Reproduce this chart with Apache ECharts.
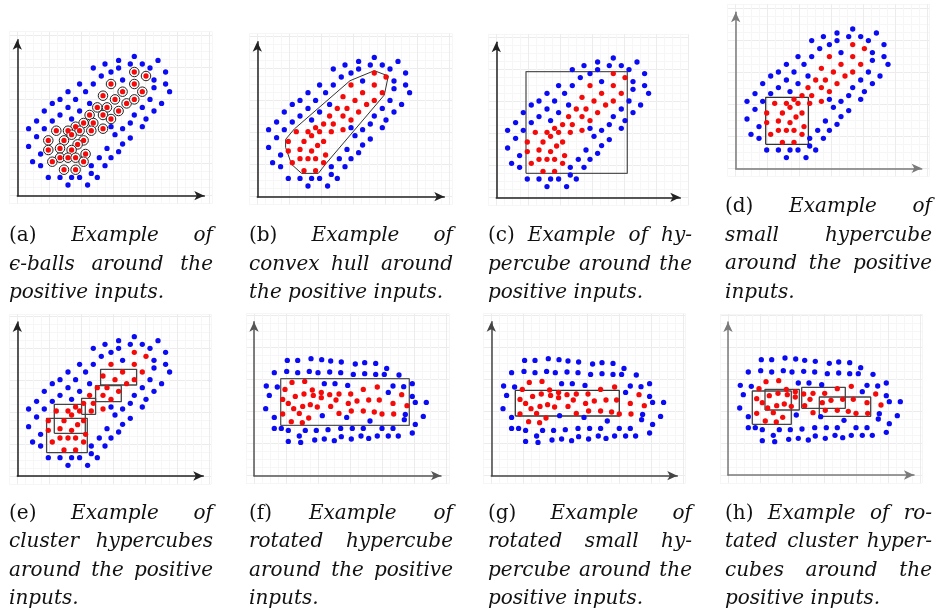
<!DOCTYPE html>
<html><head><meta charset="utf-8">
<script src="https://cdn.jsdelivr.net/npm/echarts@6/dist/echarts.min.js"></script>
<style>html,body{margin:0;padding:0;background:#fff}#c{width:938px;height:612px}</style>
</head><body><div id="c"></div>
<script>
// ---------- DATA (units = px from each panel's origin) ----------
const diagBlue = [
 [117,139.3],[101.3,135.3],[140.7,135.3],[87.7,131.7],[113,131.7],[125,131.7],[76,127.7],[101.3,127.7],
 [132.7,127.7],[93.7,123.7],[148.3,123.7],[84,119.7],[105.3,115.7],[136.7,115.7],[62.3,111.7],[76,111.7],
 [148.3,111.7],[136.7,108],[50.7,104],[68.3,104],[152.3,104],[42.7,96.3],[58.3,96.3],[132.7,96.3],
 [35,92.3],[72.3,92.3],[144.3,92.3],[50.7,88.3],[125,88.3],[27,84.7],[62.3,84.7],[136.7,84.7],
 [42.7,80.7],[117,80.7],[54.3,76.7],[128.7,76.7],[19.3,74.7],[35,74.7],[113,72.7],[93.7,69],
 [125,69],[11.3,67],[27,67],[105.3,67],[97.7,61],[19.3,59],[113,57.7],[105.3,51.7],[11.3,49.3],
 [89.7,47.3],[101.3,44],[23.3,41.7],[82,38],[93.7,38],[15.3,34],[23.3,30],[74,30],[87.7,30],
 [74,22.3],[31,18.3],[42.7,18.3],[54.3,18.3],[62.3,18.3],[80,18.3],[50.7,10.7],[70.3,10.7]
];
const diagRed = [
 [117,123.7],[128.7,119.7],[93.7,111.7],[117,111.7],[105.3,104],[125,104],[85.7,100],[97.7,96.3],
 [80,88.3],[89.7,88.3],[109.3,92.3],[117,96.3],[101.3,84.7],[72.3,80.7],[85.7,80.7],[93.7,76.7],
 [66.3,72.7],[76,72.7],[58.3,69],[85.7,67],[39,65],[50.7,65],[62.3,65],[74,65],[54.3,61],
 [31,55.3],[46.7,55.3],[66.3,55.3],[60.3,51.3],[42.7,47.3],[31,45.7],[54.3,45.7],[68.3,41.7],
 [42.7,38],[50.7,38],[58.3,38],[35,34],[66.3,34],[46.7,26],[58.3,26]
];
const hullB = [
 [117,126],[131,120.7],[127,101.7],[68,32.3],[61,23.3],[44.3,23.3],[34.3,32.3],[28.3,49.3],
 [28.3,57.3],[37,67.7],[92.7,116],[117,126]
];
const rotBlue = [
 [33.3,115.3],[43.7,115.3],[57,117],[67.7,116],[76.7,114.7],[87.3,113.7],[101.3,111.7],[110.7,113],
 [121.7,112.3],[132.7,107.3],[20.3,103],[32.7,104.3],[43.7,103],[55.3,104.3],[64,103],[75.7,103.7],
 [86.7,103],[99.3,101.3],[110.7,102],[121.7,101.3],[130.3,101.3],[145,100.7],[70.3,92],[81,92],
 [93.7,90.3],[139,89.7],[149.7,89],[158.3,92],[12.3,89.7],[23.3,88.7],[134.3,83.3],[15.3,80.3],
 [158.3,79.3],[161.3,73.3],[172.3,73.3],[11.7,67],[151.3,61.3],[169.3,59.3],[20.3,58.3],[68.3,60],
 [92.7,58.3],[116,54.7],[150.3,56],[161.3,51.3],[20.3,47.3],[27.3,47.3],[34.3,45.3],[51.3,45.3],
 [62.3,45.3],[74,46],[86.7,47.3],[98.3,47.3],[109.3,47.3],[128,47.3],[139,47.3],[158.3,42.7],
 [45.3,39.7],[34.3,34.3],[46.7,33.3],[60.7,35.7],[70.3,36.7],[80.3,35],[87.3,39],[97.3,36.7],
 [107,39.7],[114.7,37.3],[123.3,39.7],[134.3,39.7],[144.3,39.7]
];
const rotRed = [
 [38,93.3],[50.7,94.3],[31,86.3],[58.3,85.7],[67.3,83.3],[109.3,86.3],[123.3,88.7],[41.3,79.3],
 [50,81.7],[59.3,80.3],[67.3,78],[75.7,81],[85,81.7],[96.7,81.7],[147.7,81],[28.7,76.3],[34.3,72.3],
 [82,75.7],[103,74.7],[114.7,75.7],[125.3,75.7],[94.3,72.3],[139,72.3],[56.3,71],[63.3,68.7],
 [48.7,69.3],[76.7,69.3],[39.7,67],[153,70],[45.3,62.3],[85,62.3],[97.3,64.7],[109.3,64.7],
 [120.3,63.7],[128,61.7],[139.7,61.7],[28.7,61.7],[54.7,57.7],[37.3,54],[48.3,53]
];
// boxes: [x1, x2, y1, y2]
const boxesC = [[29.7,131,24,125.7]];
const boxesD = [[30,72.7,24,71]];
const boxesE = [[29.3,70,23.3,57.7],[37,68,42.7,71.7],[64.3,78.3,61.7,77.7],[78.3,104,74.3,90.3],[83.3,119.3,91,106.7]];
const boxesF = [[26.7,155.3,50.3,97]];
const boxesG = [[24,128,59.7,85.3]];
const boxesH = [[24.3,63.3,50.7,84],[37,71.3,65,85.7],[73.7,117.3,66.7,87.7],[91.3,142.7,58.7,78]];

const captionA = ["(a) Example of", "ϵ-balls around the", "positive inputs."];
const captionB = ["(b) Example of", "convex hull around", "the positive inputs."];
const captionC = ["(c) Example of hy-", "percube around the", "positive inputs."];
const captionD = ["(d) Example of", "small hypercube", "around the positive", "inputs."];
const captionE = ["(e) Example of", "cluster hypercubes", "around the positive", "inputs."];
const captionF = ["(f) Example of", "rotated hypercube", "around the positive", "inputs."];
const captionG = ["(g) Example of", "rotated small hy-", "percube around the", "positive inputs."];
const captionH = ["(h) Example of ro-", "tated cluster hyper-", "cubes around the", "positive inputs."];

// ---------- LAYOUT ----------
const panels = [
 {ox:17.3, oy:195.7, xmax:187, ymax:156, axis:'#222', set:'diag', rings:true},
 {ox:257.3, oy:196.7, xmax:187, ymax:155, axis:'#222', set:'diag', hull:hullB},
 {ox:496.3, oy:197.3, xmax:184, ymax:155, axis:'#222', set:'diag', boxes:boxesC, boxColor:'#555'},
 {ox:735.7, oy:168.3, xmax:186, ymax:156, axis:'#7a7a7a', set:'diag', boxes:boxesD, boxColor:'#333'},
 {ox:17.3, oy:476, xmax:186, ymax:154, axis:'#222', set:'diag', boxes:boxesE, boxColor:'#444'},
 {ox:254, oy:475.7, xmax:187, ymax:154, axis:'#555', set:'rot', boxes:boxesF, boxColor:'#555'},
 {ox:491.3, oy:475.7, xmax:186, ymax:154, axis:'#444', set:'rot', boxes:boxesG, boxColor:'#333'},
 {ox:728, oy:475, xmax:186, ymax:153, axis:'#7a7a7a', set:'rot', boxes:boxesH, boxColor:'#444'}
];
const captionBlocks = [
 {lines:captionA, x0:9, x1:213, ys:[236,264.5,293]},
 {lines:captionB, x0:249, x1:453, ys:[236,264.5,293]},
 {lines:captionC, x0:488, x1:692, ys:[236,264.5,293]},
 {lines:captionD, x0:725, x1:932, ys:[206.5,235.5,264,292.5]},
 {lines:captionE, x0:9, x1:213, ys:[513.5,542,570.5,599]},
 {lines:captionF, x0:249, x1:453, ys:[513.5,542,570.5,599]},
 {lines:captionG, x0:488, x1:692, ys:[513.5,542,570.5,599]},
 {lines:captionH, x0:725, x1:932, ys:[513.5,542,570.5,599]}
];

const grid = [], xAxis = [], yAxis = [], series = [];
const MINOR = '#f6f6f6', MAJOR = '#ececec';
panels.forEach((p, i) => {
  const bg = 2*i, fg = 2*i+1;
  grid.push({left:p.ox-8, top:p.oy-p.ymax-8, width:p.xmax+16, height:p.ymax+16, containLabel:false});
  grid.push({left:p.ox, top:p.oy-p.ymax, width:p.xmax, height:p.ymax, containLabel:false});
  const bgAxis = (max) => ({type:'value', min:-8, max:max, interval:8, axisLine:{show:false}, axisTick:{show:false},
      axisLabel:{show:false}, splitLine:{show:true, lineStyle:{color:[MINOR,MAJOR,MINOR,MINOR], width:1}}});
  xAxis.push(Object.assign({gridIndex:bg}, bgAxis(p.xmax+8)));
  yAxis.push(Object.assign({gridIndex:bg}, bgAxis(p.ymax+8)));
  const fgAxis = (max) => ({type:'value', min:0, max:max, axisLine:{show:true, onZero:false, symbol:['none','arrow'], symbolSize:[7,10],
      lineStyle:{color:p.axis, width:1.5}}, axisTick:{show:false}, axisLabel:{show:false}, splitLine:{show:false}});
  xAxis.push(Object.assign({gridIndex:fg}, fgAxis(p.xmax)));
  yAxis.push(Object.assign({gridIndex:fg}, fgAxis(p.ymax)));
  const blue = p.set === 'diag' ? diagBlue : rotBlue;
  const red = p.set === 'diag' ? diagRed : rotRed;
  if (p.hull) {
    series.push({type:'line', xAxisIndex:fg, yAxisIndex:fg, data:p.hull, symbol:'none', silent:true,
      lineStyle:{color:'#333', width:1}, z:2});
  }
  if (p.boxes) {
    p.boxes.forEach(b => {
      const pts = [[b[0],b[2]],[b[1],b[2]],[b[1],b[3]],[b[0],b[3]],[b[0],b[2]]];
      series.push({type:'line', xAxisIndex:fg, yAxisIndex:fg, data:pts, symbol:'none', silent:true,
        lineStyle:{color:p.boxColor, width:1.3}, z:2});
    });
  }
  series.push({type:'scatter', xAxisIndex:fg, yAxisIndex:fg, data:blue, symbol:'circle', symbolSize:5.3,
    itemStyle:{color:'#0a0af5', opacity:1}, z:3});
  if (p.rings) {
    series.push({type:'scatter', xAxisIndex:fg, yAxisIndex:fg, data:red, symbol:'circle', symbolSize:9.5,
      itemStyle:{color:'#ffffff', borderColor:'#222', borderWidth:1, opacity:1}, z:3});
  }
  series.push({type:'scatter', xAxisIndex:fg, yAxisIndex:fg, data:red, symbol:'circle', symbolSize:5.3,
    itemStyle:{color:'#f50a0a', opacity:1}, z:4});
});

// ---------- CAPTIONS (justified, word by word) ----------
const FS = 20, FAM = "DejaVu Serif";
const ctx = document.createElement('canvas').getContext('2d');
function tw(t, it){ ctx.font = (it ? 'italic ' : '') + FS + 'px "' + FAM + '"'; return ctx.measureText(t).width; }
const graphic = [];
captionBlocks.forEach(cb => {
  const W = cb.x1 - cb.x0;
  cb.lines.forEach((line, li) => {
    const words = line.split(' ');
    const items = words.map((w, wi) => ({t:w, it:!(li===0 && wi===0)}));
    items.forEach(o => o.w = tw(o.t, o.it));
    const sum = items.reduce((s,o)=>s+o.w, 0);
    let gap = tw(' ', true);
    const last = li === cb.lines.length - 1;
    if (items.length > 1 && (!last || sum + gap*(items.length-1) > W)) gap = (W - sum)/(items.length-1);
    let x = cb.x0;
    items.forEach(o => {
      graphic.push({type:'text', x:x, y:cb.ys[li], silent:true,
        style:{text:o.t, fontSize:FS, fontFamily:FAM, fontStyle:o.it?'italic':'normal', fill:'#111',
          textAlign:'left', textVerticalAlign:'middle'}});
      x += o.w + gap;
    });
  });
});

const chart = echarts.init(document.getElementById('c'), null, {renderer:'canvas'});
chart.setOption({animation:false, backgroundColor:'#fff', grid, xAxis, yAxis, series, graphic});
</script></body></html>
